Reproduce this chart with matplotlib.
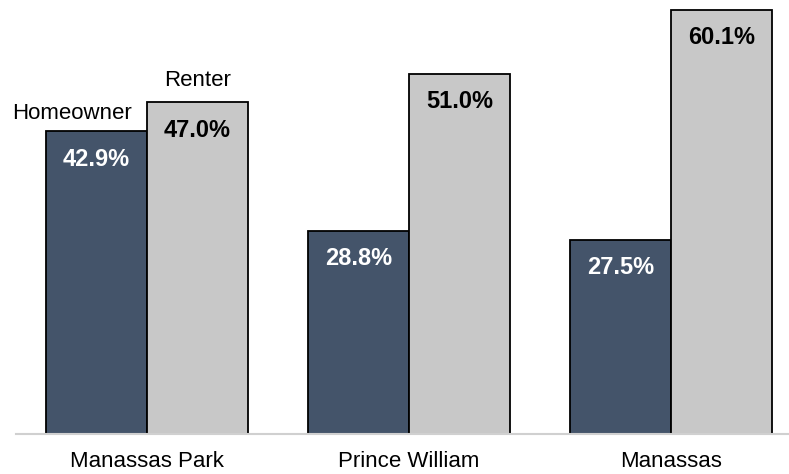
import matplotlib.pyplot as plt
import numpy as np

plt.rcParams['font.family'] = ['Liberation Sans', 'DejaVu Sans']

# data
places = ["Manassas Park", "Prince William", "Manassas"]
homeowner = [42.9, 28.8, 27.5]
renter = [47.0, 51.0, 60.1]

dark = "#44546A"
light = "#C8C8C8"

fig = plt.figure(figsize=(7.89, 4.74), dpi=100)
ax = fig.add_axes([16 / 789, 40 / 474, 773 / 789, 434 / 474])

x = np.arange(len(places))
w = 0.385
b1 = ax.bar(x - w / 2, homeowner, w, color=dark, edgecolor="black", linewidth=1.3)
b2 = ax.bar(x + w / 2, renter, w, color=light, edgecolor="black", linewidth=1.3)

# value labels just inside the top of each bar
for bar, v in zip(b1, homeowner):
    ax.annotate(f"{v:.1f}%", (bar.get_x() + bar.get_width() / 2, v),
                xytext=(0, -20), textcoords="offset points",
                ha="center", va="center", color="white",
                fontsize=17, fontweight="bold")
for bar, v in zip(b2, renter):
    ax.annotate(f"{v:.1f}%", (bar.get_x() + bar.get_width() / 2, v),
                xytext=(0, -20), textcoords="offset points",
                ha="center", va="center", color="black",
                fontsize=17, fontweight="bold")

# series names above the first group
ax.annotate("Homeowner", (b1[0].get_x() + b1[0].get_width() / 2, homeowner[0]),
            xytext=(-18, 13), textcoords="offset points",
            ha="center", va="center", fontsize=16)
ax.annotate("Renter", (b2[0].get_x() + b2[0].get_width() / 2, renter[0]),
            xytext=(0, 16), textcoords="offset points",
            ha="center", va="center", fontsize=16)

ax.set_xlim(-0.5, -0.5 + 773 / 262)
ax.set_ylim(0, 61.5)
ax.set_xticks(x)
ax.set_xticklabels(places, fontsize=16)
ax.tick_params(axis="x", length=0, pad=12)
ax.set_yticks([])
for s in ["top", "right", "left"]:
    ax.spines[s].set_visible(False)
ax.spines["bottom"].set_color("#D0D0D0")
ax.spines["bottom"].set_linewidth(1.5)
ax.spines["bottom"].set_zorder(5)

fig.savefig("out.png", dpi=100)
